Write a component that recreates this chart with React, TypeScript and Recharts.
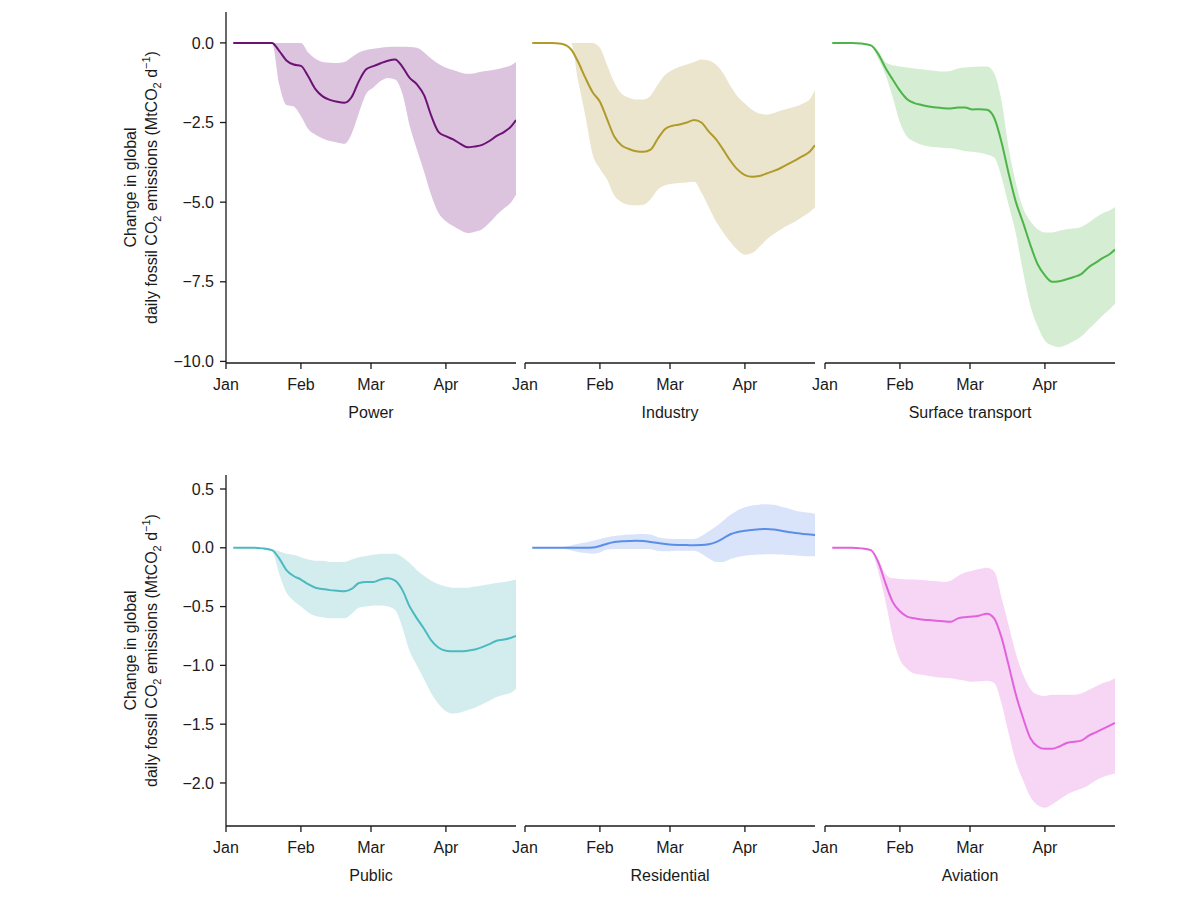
import React from "react";
import { ComposedChart, Area, Line, XAxis, YAxis } from "recharts";

// day of year 2020 (0 = 1 Jan)
const days = [3, 7, 11, 15, 19, 22, 25, 28, 31, 34, 37, 40, 43, 46, 49, 52, 55, 58, 61, 64, 67, 70, 73, 76, 79, 82, 85, 88, 91, 94, 97, 100, 103, 106, 109, 112, 115, 118, 120];

const monthTicks = [0, 31, 60, 91];
const monthNames = ["Jan", "Feb", "Mar", "Apr"];

const topTicks = [-10, -7.5, -5, -2.5, 0];
const bottomTicks = [-2, -1.5, -1, -0.5, 0, 0.5];

const powerMid = [0, 0, 0, 0, 0, -0.25, -0.55, -0.68, -0.72, -1.05, -1.45, -1.68, -1.79, -1.85, -1.88, -1.7, -1.2, -0.83, -0.73, -0.64, -0.56, -0.52, -0.75, -1.1, -1.3, -1.65, -2.3, -2.8, -2.93, -3.03, -3.17, -3.28, -3.25, -3.2, -3.08, -2.92, -2.8, -2.62, -2.42];
const powerHigh = [0, 0, 0, 0, 0, 0, 0, 0, 0, -0.3, -0.5, -0.6, -0.62, -0.63, -0.6, -0.45, -0.3, -0.22, -0.18, -0.15, -0.13, -0.12, -0.12, -0.13, -0.15, -0.3, -0.5, -0.66, -0.78, -0.85, -0.93, -0.97, -0.95, -0.9, -0.87, -0.83, -0.77, -0.7, -0.6];
const powerLow = [0, 0, 0, 0, 0, -1.3, -1.95, -2.0, -2.3, -2.7, -2.88, -3.0, -3.08, -3.13, -3.17, -2.85, -2.2, -1.6, -1.4, -1.2, -1.1, -1.15, -1.6, -2.6, -3.35, -4.05, -4.8, -5.35, -5.6, -5.75, -5.88, -5.97, -5.93, -5.85, -5.65, -5.4, -5.2, -5.0, -4.77];

const industryMid = [0, 0, 0, -0.03, -0.2, -0.6, -1.1, -1.55, -1.85, -2.4, -2.95, -3.22, -3.33, -3.4, -3.42, -3.35, -3.0, -2.7, -2.6, -2.56, -2.5, -2.42, -2.5, -2.78, -3.02, -3.35, -3.7, -3.98, -4.15, -4.2, -4.18, -4.1, -4.02, -3.92, -3.8, -3.68, -3.55, -3.4, -3.21];
const industryHigh = [0, 0, 0, 0, 0, 0, 0, 0, -0.15, -0.7, -1.25, -1.6, -1.72, -1.78, -1.78, -1.65, -1.3, -1.0, -0.85, -0.75, -0.68, -0.6, -0.52, -0.55, -0.68, -0.95, -1.35, -1.68, -1.9, -2.1, -2.22, -2.25, -2.2, -2.12, -2.06, -2.0, -1.9, -1.75, -1.48];
const industryLow = [0, 0, 0, 0, 0, -1.2, -2.3, -3.5, -3.95, -4.3, -4.8, -5.0, -5.08, -5.1, -5.08, -4.9, -4.6, -4.47, -4.42, -4.4, -4.38, -4.36, -4.7, -5.15, -5.6, -5.95, -6.25, -6.5, -6.65, -6.6, -6.4, -6.17, -6.0, -5.85, -5.72, -5.6, -5.45, -5.3, -5.16];

const surfaceMid = [0, 0, 0, -0.02, -0.08, -0.35, -0.78, -1.15, -1.5, -1.77, -1.89, -1.95, -2.0, -2.03, -2.05, -2.06, -2.03, -2.03, -2.09, -2.08, -2.1, -2.35, -3.1, -4.1, -5.0, -5.65, -6.35, -6.95, -7.3, -7.5, -7.48, -7.42, -7.35, -7.26, -7.05, -6.9, -6.75, -6.62, -6.49];
const surfaceHigh = [0, 0, 0, -0.02, -0.05, -0.25, -0.6, -0.7, -0.74, -0.77, -0.8, -0.83, -0.86, -0.88, -0.9, -0.88, -0.8, -0.77, -0.76, -0.74, -0.74, -0.95, -1.8, -3.3, -4.4, -5.2, -5.6, -5.85, -5.95, -5.95, -5.9, -5.85, -5.83, -5.78, -5.65, -5.48, -5.35, -5.25, -5.15];
const surfaceLow = [0, 0, 0, -0.02, -0.1, -0.5, -1.0, -1.7, -2.5, -2.95, -3.1, -3.2, -3.25, -3.28, -3.3, -3.31, -3.35, -3.4, -3.42, -3.45, -3.5, -3.6, -4.2, -5.1, -6.0, -7.2, -8.25, -8.9, -9.35, -9.5, -9.55, -9.48, -9.36, -9.22, -9.0, -8.78, -8.55, -8.35, -8.19];

const publicMid = [0, 0, 0, -0.005, -0.02, -0.09, -0.19, -0.24, -0.27, -0.31, -0.34, -0.35, -0.36, -0.365, -0.37, -0.35, -0.3, -0.29, -0.29, -0.27, -0.26, -0.28, -0.36, -0.5, -0.6, -0.69, -0.79, -0.85, -0.875, -0.88, -0.88, -0.875, -0.865, -0.845, -0.82, -0.79, -0.78, -0.765, -0.75];
const publicHigh = [0, 0, 0, 0, -0.01, -0.03, -0.05, -0.06, -0.08, -0.1, -0.11, -0.11, -0.12, -0.12, -0.12, -0.1, -0.08, -0.07, -0.06, -0.05, -0.05, -0.05, -0.08, -0.13, -0.19, -0.24, -0.28, -0.31, -0.33, -0.34, -0.34, -0.34, -0.33, -0.32, -0.31, -0.3, -0.29, -0.28, -0.27];
const publicLow = [0, 0, 0, -0.01, -0.03, -0.22, -0.38, -0.45, -0.5, -0.55, -0.58, -0.59, -0.6, -0.6, -0.6, -0.56, -0.51, -0.5, -0.49, -0.49, -0.5, -0.53, -0.68, -0.88, -1.0, -1.12, -1.24, -1.33, -1.39, -1.41, -1.4, -1.38, -1.36, -1.33, -1.3, -1.27, -1.25, -1.23, -1.2];

const residentialMid = [0, 0, 0, 0, 0, 0, 0, 0.002, 0.015, 0.035, 0.05, 0.055, 0.058, 0.06, 0.058, 0.05, 0.04, 0.032, 0.026, 0.024, 0.023, 0.022, 0.023, 0.03, 0.048, 0.08, 0.115, 0.135, 0.145, 0.152, 0.158, 0.16, 0.155, 0.145, 0.135, 0.125, 0.118, 0.112, 0.108];
const residentialHigh = [0, 0, 0, 0.005, 0.02, 0.035, 0.045, 0.06, 0.075, 0.09, 0.1, 0.107, 0.112, 0.115, 0.117, 0.112, 0.09, 0.078, 0.075, 0.074, 0.074, 0.075, 0.1, 0.14, 0.18, 0.23, 0.28, 0.32, 0.345, 0.36, 0.367, 0.37, 0.365, 0.35, 0.335, 0.315, 0.305, 0.297, 0.29];
const residentialLow = [0, 0, 0, -0.005, -0.02, -0.035, -0.045, -0.05, -0.04, -0.015, -0.01, -0.01, -0.01, -0.01, -0.01, -0.012, -0.025, -0.03, -0.028, -0.026, -0.025, -0.025, -0.05, -0.09, -0.12, -0.12, -0.095, -0.078, -0.068, -0.062, -0.057, -0.054, -0.055, -0.058, -0.062, -0.066, -0.07, -0.072, -0.073];

const aviationMid = [0, 0, 0, -0.005, -0.02, -0.12, -0.3, -0.46, -0.54, -0.585, -0.6, -0.61, -0.615, -0.62, -0.625, -0.63, -0.6, -0.59, -0.585, -0.575, -0.56, -0.6, -0.76, -1.0, -1.25, -1.45, -1.62, -1.69, -1.71, -1.71, -1.69, -1.66, -1.65, -1.64, -1.6, -1.57, -1.54, -1.51, -1.49];
const aviationHigh = [0, 0, 0, -0.005, -0.02, -0.1, -0.22, -0.26, -0.265, -0.27, -0.27, -0.275, -0.28, -0.285, -0.29, -0.28, -0.24, -0.21, -0.195, -0.18, -0.17, -0.2, -0.42, -0.66, -0.9, -1.08, -1.2, -1.25, -1.26, -1.25, -1.25, -1.25, -1.25, -1.24, -1.21, -1.18, -1.15, -1.13, -1.11];
const aviationLow = [0, 0, 0, -0.005, -0.02, -0.2, -0.45, -0.75, -0.95, -1.03, -1.07, -1.08, -1.09, -1.1, -1.105, -1.11, -1.12, -1.13, -1.14, -1.135, -1.13, -1.15, -1.32, -1.58, -1.82, -1.98, -2.12, -2.19, -2.21, -2.18, -2.14, -2.1, -2.07, -2.05, -2.02, -1.98, -1.95, -1.93, -1.92];

const buildRows = (mid: number[], low: number[], high: number[]) =>
  days.map((d, i) => ({ day: d, value: mid[i], range: [low[i], high[i]] }));

const fmtY = (v: number) => (v < 0 ? "\u2212" : "") + Math.abs(v).toFixed(1);
const fmtX = (v: number) => monthNames[monthTicks.indexOf(v)] ?? "";

const AXIS = "#1a1a1a";
const FONT = "'Liberation Sans', Arial, Helvetica, sans-serif";

const YLabel = (props: any) => {
  const vb = props.viewBox;
  const cy = vb.y + vb.height / 2;
  const x1 = vb.x + 136;
  const x2 = vb.x + 157;
  return (
    <g fill="#1a1a1a" fontSize={16} fontFamily={FONT}>
      <text x={x1} y={cy} textAnchor="middle" transform={`rotate(-90 ${x1} ${cy})`}>
        Change in global
      </text>
      <text x={x2} y={cy} textAnchor="middle" transform={`rotate(-90 ${x2} ${cy})`}>
        daily fossil CO
        <tspan dy={4} fontSize={11}>2</tspan>
        <tspan dy={-4}> emissions (MtCO</tspan>
        <tspan dy={4} fontSize={11}>2</tspan>
        <tspan dy={-4}> d</tspan>
        <tspan dy={-7} fontSize={11}>{"\u22121"}</tspan>
        <tspan dy={7}>)</tspan>
      </text>
    </g>
  );
};

type PanelProps = {
  title: string;
  mid: number[];
  low: number[];
  high: number[];
  line: string;
  band: string;
  domain: [number, number];
  ticks: number[];
  first: boolean;
  left: number;
  top: number;
};

// plot areas: 226-516, 525-815, 825-1115; non-first charts get a wide left
// margin so the "Jan" label is not cut at the svg edge
const Panel = ({ title, mid, low, high, line, band, domain, ticks, first, left, top }: PanelProps) => {
  const rows = buildRows(mid, low, high);
  const width = first ? 526 : 340;
  return (
    <div style={{ position: "absolute", left, top }}>
      <ComposedChart
        width={width}
        height={423}
        data={rows}
        margin={{ top: 12, right: 10, bottom: 0, left: first ? 0 : 40 }}
      >
        <XAxis
          dataKey="day"
          type="number"
          domain={[0, 120]}
          ticks={monthTicks}
          interval={0}
          tickFormatter={fmtX}
          height={60}
          tickSize={6}
          tickMargin={10}
          stroke={AXIS}
          strokeWidth={1.3}
          tick={{ fill: AXIS, fontSize: 16 }}
          allowDataOverflow
          label={(p: any) => (
            <text
              x={p.viewBox.x + p.viewBox.width / 2}
              y={p.viewBox.y + 55}
              textAnchor="middle"
              fill={AXIS}
              fontSize={16}
              fontFamily={FONT}
            >
              {title}
            </text>
          )}
        />
        <YAxis
          type="number"
          domain={domain}
          ticks={ticks}
          interval={0}
          tickFormatter={fmtY}
          hide={!first}
          width={first ? 226 : 0}
          tickSize={6}
          tickMargin={6}
          stroke={AXIS}
          strokeWidth={1.3}
          tick={{ fill: AXIS, fontSize: 16 }}
          allowDataOverflow
          label={first ? (p: any) => <YLabel {...p} /> : undefined}
        />
        <Area
          dataKey="range"
          type="monotone"
          stroke="none"
          fill={band}
          fillOpacity={1}
          isAnimationActive={false}
          activeDot={false}
        />
        <Line
          dataKey="value"
          type="monotone"
          stroke={line}
          strokeWidth={2}
          dot={false}
          activeDot={false}
          isAnimationActive={false}
        />
      </ComposedChart>
    </div>
  );
};

const topDomain: [number, number] = [-10.05, 0.97];
const bottomDomain: [number, number] = [-2.366, 0.619];

export default function App() {
  return (
    <div
      style={{
        position: "absolute",
        left: 0,
        top: 0,
        width: 1200,
        height: 902,
        background: "#fff",
        fontFamily: FONT,
      }}
    >
      <Panel title="Power" mid={powerMid} low={powerLow} high={powerHigh} line="#6c1274" band="#dcc4df" domain={topDomain} ticks={topTicks} first left={0} top={0} />
      <Panel title="Industry" mid={industryMid} low={industryLow} high={industryHigh} line="#b09a2a" band="#ebe5cd" domain={topDomain} ticks={topTicks} first={false} left={485} top={0} />
      <Panel title="Surface transport" mid={surfaceMid} low={surfaceLow} high={surfaceHigh} line="#4cb449" band="#d5edd3" domain={topDomain} ticks={topTicks} first={false} left={785} top={0} />
      <Panel title="Public" mid={publicMid} low={publicLow} high={publicHigh} line="#4bbac0" band="#d3edee" domain={bottomDomain} ticks={bottomTicks} first left={0} top={463} />
      <Panel title="Residential" mid={residentialMid} low={residentialLow} high={residentialHigh} line="#5b8ee6" band="#d9e4fa" domain={bottomDomain} ticks={bottomTicks} first={false} left={485} top={463} />
      <Panel title="Aviation" mid={aviationMid} low={aviationLow} high={aviationHigh} line="#e063dc" band="#f7d5f4" domain={bottomDomain} ticks={bottomTicks} first={false} left={785} top={463} />
    </div>
  );
}
